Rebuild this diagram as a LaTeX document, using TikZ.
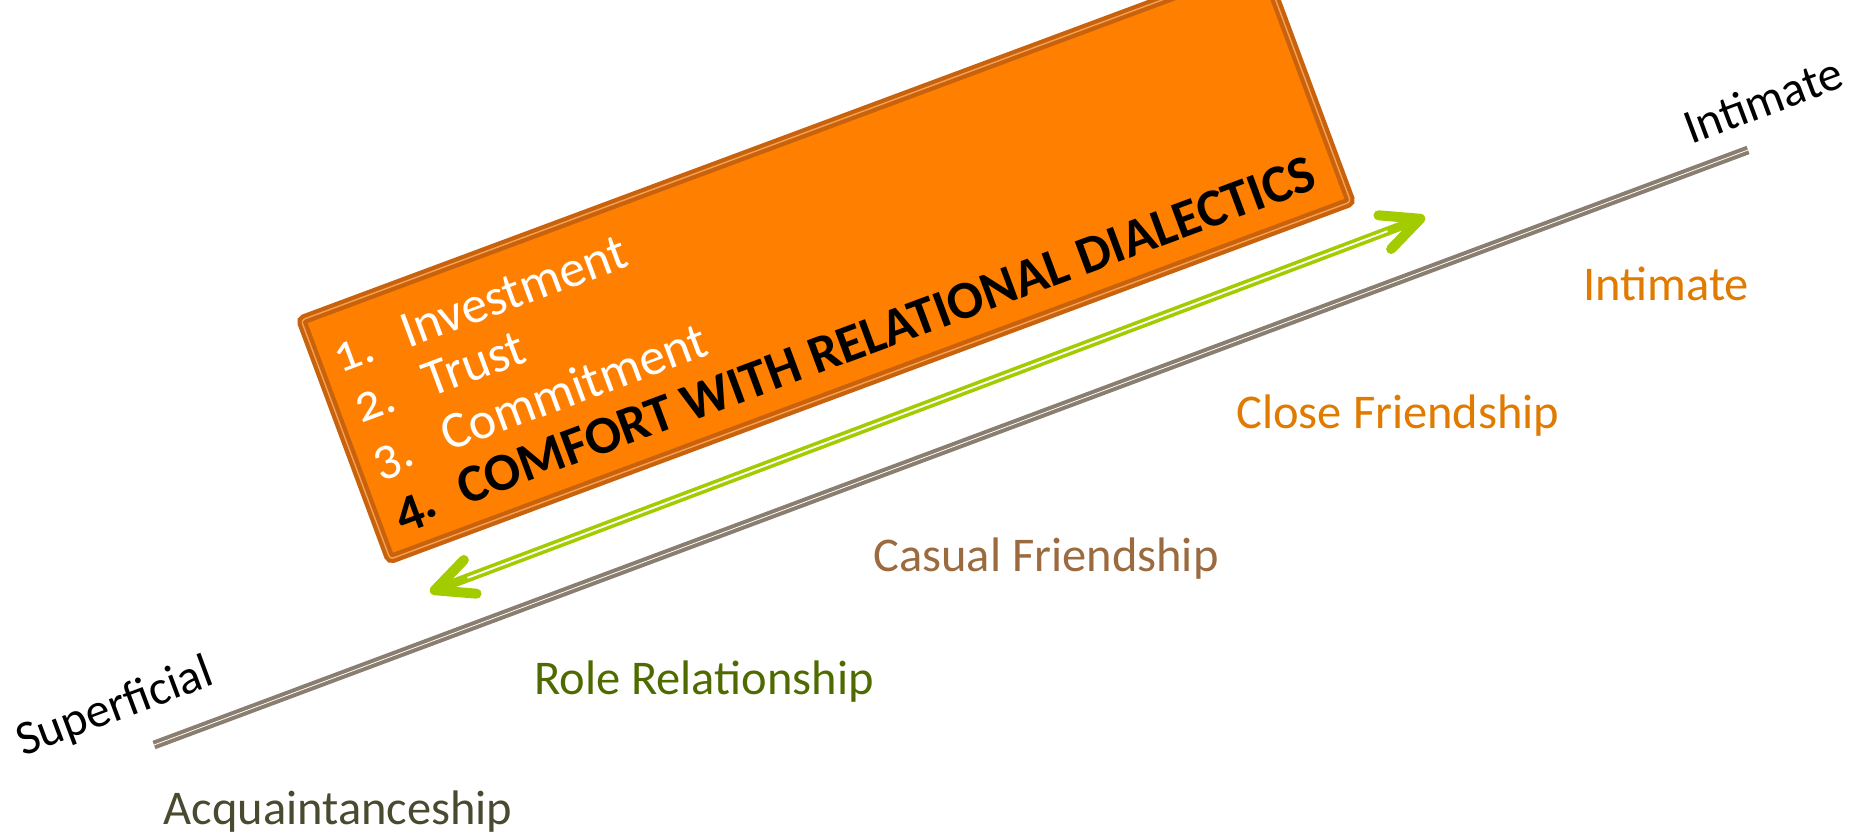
\documentclass[tikz,border=0pt]{standalone}
\usepackage{fontspec}
\setmainfont{Carlito}
\newfontfamily\listfont[Numbers=OldStyle]{Carlito}
\usetikzlibrary{positioning, arrows.meta}
\definecolor{boxfill}{HTML}{FF7F00}
\definecolor{boxedge}{HTML}{C9620C}
\definecolor{boxline}{HTML}{F7A050}
\definecolor{scaleline}{HTML}{8A7E70}
\definecolor{arrowgreen}{HTML}{A3CC00}
\definecolor{stageorange}{HTML}{E07B00}
\definecolor{stagebrown}{HTML}{9B6B3F}
\definecolor{stagegreen}{HTML}{4F6B00}
\definecolor{stagedark}{HTML}{4A4A30}
\tikzset{barbtip/.tip={Straight Barb[length=3.8mm, width=3.6mm, line width=1mm, round]}}

\begin{document}
\begin{tikzpicture}[
	stage/.style={inner sep=0pt, font=\fontsize{13.8}{16}\selectfont},
	endlabel/.style={inner sep=0pt, rotate=20.5, font=\fontsize{13.8}{16}\selectfont},
	listnum/.style={anchor=base west, inner sep=0pt, text=white, font=\listfont\fontsize{14.8}{17}\selectfont},
	listbold/.style={anchor=base west, inner sep=0pt, text=black, font=\listfont\bfseries\fontsize{15.2}{18}\selectfont}
	]
	\useasboundingbox (0,0) rectangle (18.53,8.37);
	\clip (0,0) rectangle (18.53,8.37);

	% scale line %
	\coordinate (lo) at (1.54,0.92);
	\coordinate (hi) at (17.48,6.87);
	\draw[scaleline, line width=0.4mm, double=white, double distance=0.08mm] (lo) -- (hi);
	\node[endlabel] (sup) at (1.15,1.29) {Superficial};
	\node[endlabel] (int) at (17.63,7.37) {Intimate};

	% stages %
	\node[stage, text=stagedark] (acq) at (3.38,0.25) {Acquaintanceship};
	\node[stage, text=stagegreen] (role) at (7.04,1.55) {Role Relationship};
	\node[stage, text=stagebrown] (casual) at (10.46,2.78) {Casual Friendship};
	\node[stage, text=stageorange] (close) at (13.98,4.21) {Close Friendship};
	\node[stage, text=stageorange] (intimate) at (16.66,5.53) {Intimate};

	% box with list %
	\node[draw=boxedge, fill=boxfill, line width=1.2pt, double=boxline, double distance=0.4pt,
		rounded corners=1pt, rotate=20.4, minimum width=10.25cm, minimum height=2.55cm, inner sep=0pt] (box) at (8.26,5.76) {};
	\begin{scope}[shift={(box.north west)}, rotate=20.4, transform shape]
		\node[listnum] (n1) at (0.20,-0.66) {1.};
		\node[listnum] (t1) at (0.92,-0.66) {Investment};
		\node[listnum] (n2) at (0.22,-1.20) {2.};
		\node[listnum] (t2) at (0.96,-1.20) {Trust};
		\node[listnum] (n3) at (0.20,-1.77) {3.};
		\node[listnum] (t3) at (0.94,-1.77) {Commitment};
		\node[listbold] (n4) at (0.22,-2.33) {4.};
		\node[listbold] (t4) at (0.91,-2.33) {COMFORT WITH RELATIONAL DIALECTICS};
	\end{scope}

	% arrow %
	\coordinate (gl) at (4.30,2.45);
	\coordinate (gr) at (14.25,6.20);
	\draw[arrowgreen, line width=0.9mm, barbtip-barbtip] (gl) -- (gr);
	\draw[white, line width=0.18mm, shorten <=4mm, shorten >=4mm] (gl) -- (gr);

\end{tikzpicture}
\end{document}
